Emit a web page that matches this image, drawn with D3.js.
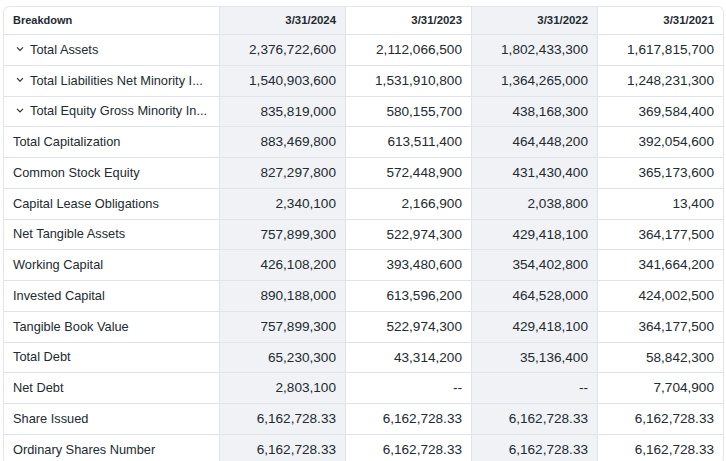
<!DOCTYPE html>
<html>
<head>
<meta charset="utf-8">
<script src="https://cdn.jsdelivr.net/npm/d3@7"></script>
<style>
  body { margin: 0; background: #fff; }
  svg { display: block; }
</style>
</head>
<body>
<div id="table"></div>
<script>
// column headers (dates)
const dates = ["3/31/2024", "3/31/2023", "3/31/2022", "3/31/2021"];

// row labels, "expandable" marks the rows that carry a chevron
const breakdown = [
  "Total Assets",
  "Total Liabilities Net Minority I...",
  "Total Equity Gross Minority In...",
  "Total Capitalization",
  "Common Stock Equity",
  "Capital Lease Obligations",
  "Net Tangible Assets",
  "Working Capital",
  "Invested Capital",
  "Tangible Book Value",
  "Total Debt",
  "Net Debt",
  "Share Issued",
  "Ordinary Shares Number"
];
const expandable = [true, true, true, false, false, false, false, false, false, false, false, false, false, false];

// one array per date column, null = "--"
const values2024 = [2376722600, 1540903600, 835819000, 883469800, 827297800, 2340100, 757899300, 426108200, 890188000, 757899300, 65230300, 2803100, 6162728.33, 6162728.33];
const values2023 = [2112066500, 1531910800, 580155700, 613511400, 572448900, 2166900, 522974300, 393480600, 613596200, 522974300, 43314200, null, 6162728.33, 6162728.33];
const values2022 = [1802433300, 1364265000, 438168300, 464448200, 431430400, 2038800, 429418100, 354402800, 464528000, 429418100, 35136400, null, 6162728.33, 6162728.33];
const values2021 = [1617815700, 1248231300, 369584400, 392054600, 365173600, 13400, 364177500, 341664200, 424002500, 364177500, 58842300, 7704900, 6162728.33, 6162728.33];

const columns = [values2024, values2023, values2022, values2021];

const width = 726, height = 461;
const box = { left: 3, top: 6, right: 723 };
const labelW = 216, headH = 28, rowH = 30.75;

const fmtInt = d3.format(",");
const fmtDec = d3.format(",.2f");
function fmt(v) {
  if (v === null) return "--";
  return Number.isInteger(v) ? fmtInt(v) : fmtDec(v);
}

const svg = d3.select("#table").append("svg")
  .attr("width", width)
  .attr("height", height)
  .style("font-family", "'Liberation Sans', Arial, sans-serif");

const x = d3.scaleBand()
  .domain(dates)
  .range([box.left + labelW, box.right]);

const y = d3.scaleBand()
  .domain(d3.range(breakdown.length))
  .range([box.top + headH, box.top + headH + rowH * breakdown.length]);

const bottom = y.range()[1];

// outer frame
svg.append("rect")
  .attr("x", box.left + 0.5).attr("y", box.top + 0.5)
  .attr("width", box.right - box.left).attr("height", bottom - box.top)
  .attr("rx", 6)
  .attr("fill", "#fff")
  .attr("stroke", "#e2e5e9");

// shaded columns (2024, 2022)
svg.selectAll("rect.shade")
  .data(dates.filter((d, i) => i % 2 === 0))
  .join("rect")
    .attr("class", "shade")
    .attr("x", d => x(d))
    .attr("y", box.top + 1)
    .attr("width", x.bandwidth())
    .attr("height", bottom - box.top)
    .attr("fill", "#f0f2f5");

// horizontal row lines
svg.selectAll("line.hrow")
  .data(d3.range(breakdown.length))
  .join("line")
    .attr("class", "hrow")
    .attr("x1", box.left + 1).attr("x2", box.right)
    .attr("y1", d => Math.round(y(d)) + 0.5)
    .attr("y2", d => Math.round(y(d)) + 0.5)
    .attr("stroke", "#e0e3e7");

// vertical column lines
svg.selectAll("line.vcol")
  .data(dates)
  .join("line")
    .attr("class", "vcol")
    .attr("x1", d => Math.round(x(d)) + 0.5)
    .attr("x2", d => Math.round(x(d)) + 0.5)
    .attr("y1", box.top + 1).attr("y2", bottom)
    .attr("stroke", "#e0e3e7");

const textColor = "#232a31";

// header
svg.append("text")
  .attr("x", box.left + 10)
  .attr("y", box.top + headH / 2)
  .attr("dy", "0.35em")
  .attr("font-size", 11)
  .attr("font-weight", "bold")
  .attr("fill", textColor)
  .text("Breakdown");

svg.selectAll("text.head")
  .data(dates)
  .join("text")
    .attr("class", "head")
    .attr("x", d => x(d) + x.bandwidth() - 9)
    .attr("y", box.top + headH / 2)
    .attr("dy", "0.35em")
    .attr("text-anchor", "end")
    .attr("font-size", 11.4)
    .attr("font-weight", "bold")
    .attr("fill", textColor)
    .text(d => d);

// row labels
const rows = svg.selectAll("g.row")
  .data(breakdown)
  .join("g")
    .attr("class", "row")
    .attr("transform", (d, i) => `translate(0,${y(i) + y.bandwidth() / 2})`);

rows.append("text")
  .attr("x", (d, i) => expandable[i] ? box.left + 27 : box.left + 10)
  .attr("dy", "0.35em")
  .attr("font-size", 12.8)
  .attr("fill", textColor)
  .text(d => d);

// chevrons
rows.filter((d, i) => expandable[i])
  .append("path")
    .attr("d", `M${box.left + 14},-2 l3,3 l3,-3`)
    .attr("fill", "none")
    .attr("stroke", textColor)
    .attr("stroke-width", 1.1);

// values
columns.forEach((vals, c) => {
  svg.selectAll(`text.v${c}`)
    .data(vals)
    .join("text")
      .attr("class", `v${c}`)
      .attr("x", x(dates[c]) + x.bandwidth() - 9)
      .attr("y", (d, i) => y(i) + y.bandwidth() / 2)
      .attr("dy", "0.35em")
      .attr("text-anchor", "end")
      .attr("font-size", 13.6)
      .attr("fill", textColor)
      .text(d => fmt(d));
});
</script>
</body>
</html>
